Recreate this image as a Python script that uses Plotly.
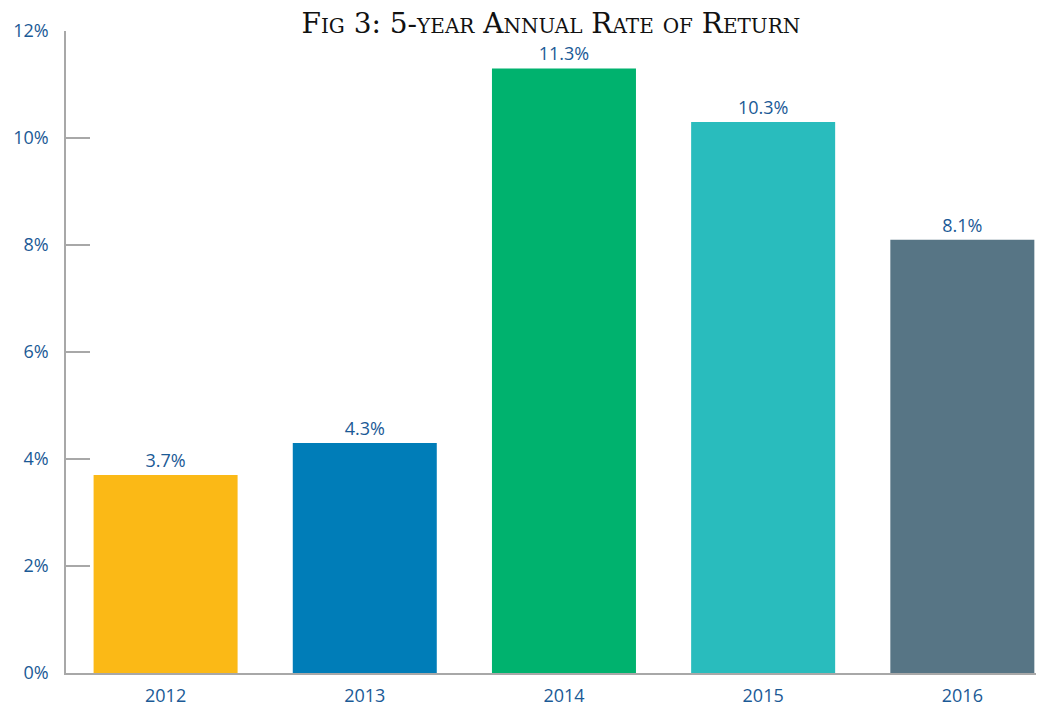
import plotly.graph_objects as go

years = ["2012", "2013", "2014", "2015", "2016"]
returns = [3.7, 4.3, 11.3, 10.3, 8.1]
labels = ["3.7%", "4.3%", "11.3%", "10.3%", "8.1%"]
colors = ["#FBB916", "#007DB8", "#00B26E", "#29BCBD", "#577585"]
y_ticks = [0, 2, 4, 6, 8, 10, 12]
y_tick_text = ["0%", "2%", "4%", "6%", "8%", "10%", "12%"]

text_color = "#1B5A96"
axis_color = "#A8A8A8"

fig = go.Figure(go.Bar(
    x=years, y=returns, marker_color=colors, marker_line_width=0,
    text=labels, textposition="outside", cliponaxis=False,
    textfont=dict(family="Open Sans", size=18, color=text_color),
))

fig.update_layout(
    width=1036, height=699,
    margin=dict(l=58, r=0, t=23, b=26),
    plot_bgcolor="white", paper_bgcolor="white",
    bargap=0.277, showlegend=False,
    title=dict(text="Fig 3: 5-year Annual Rate of Return", x=0.524, xanchor="center",
               y=0.9785, yanchor="middle",
               font=dict(family="DejaVu Serif", size=28, color="#111111", variant="small-caps")),
    xaxis=dict(type="category", range=[-0.5, 4.41], showline=True, linecolor=axis_color,
               linewidth=1.5, ticks="", showgrid=False, ticklabelstandoff=6,
               tickfont=dict(family="Open Sans", size=18, color=text_color)),
    yaxis=dict(range=[0, 12], tickvals=y_ticks, ticktext=y_tick_text, showline=True,
               linecolor=axis_color, linewidth=1.5, ticks="inside", ticklen=24,
               tickcolor=axis_color, tickwidth=1.5, showgrid=False, zeroline=False,
               ticklabelstandoff=12,
               tickfont=dict(family="Open Sans", size=18, color=text_color)),
)

fig.write_html("out.html")
